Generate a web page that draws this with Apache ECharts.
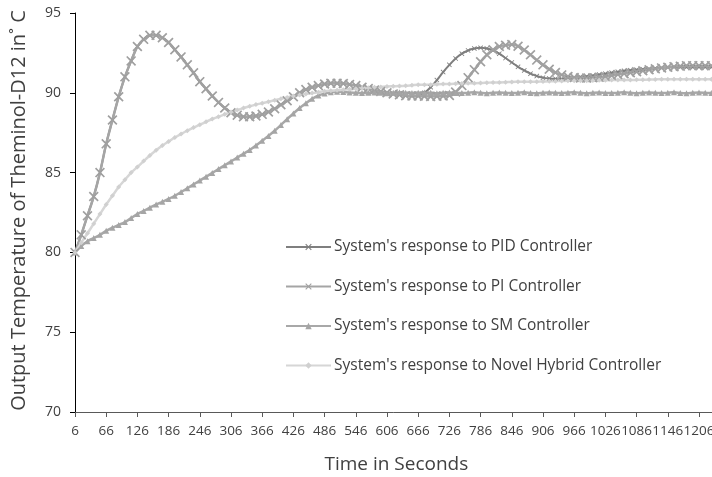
<!DOCTYPE html>
<html>
<head>
<meta charset="utf-8">
<script src="https://cdn.jsdelivr.net/npm/echarts@6/dist/echarts.min.js"></script>
<style>
html,body{margin:0;padding:0;background:#fff;}
#chart{width:712px;height:477px;}
</style>
</head>
<body>
<div id="chart"></div>
<script>
var timeLabels = [6,18,30,42,54,66,78,90,102,114,126,138,150,162,174,186,198,210,222,234,
  246,258,270,282,294,306,318,330,342,354,366,378,390,402,414,426,438,450,462,474,
  486,498,510,522,534,546,558,570,582,594,606,618,630,642,654,666,678,690,702,714,
  726,738,750,762,774,786,798,810,822,834,846,858,870,882,894,906,918,930,942,954,
  966,978,990,1002,1014,1026,1038,1050,1062,1074,1086,1098,1110,1122,1134,1146,1158,1170,1182,1194,
  1206,1218,1230,1242];

var pidValues = [80.0,81.1,82.3,83.5,85.0,86.8,88.3,89.75,91.0,92.0,
  92.9,93.35,93.6,93.6,93.45,93.15,92.7,92.25,91.75,91.25,
  90.7,90.25,89.8,89.4,89.05,88.75,88.6,88.5,88.5,88.55,
  88.65,88.8,89.0,89.25,89.5,89.75,90.0,90.2,90.35,90.45,
  90.55,90.6,90.6,90.58,90.52,90.45,90.35,90.27,90.18,90.08,
  90.0,89.93,89.87,89.82,89.8,89.8,
  90.0,90.35,90.8,91.3,91.75,92.15,92.45,92.65,92.77,92.82,
  92.78,92.66,92.45,92.18,91.9,91.63,91.4,91.2,91.05,90.95,
  90.9,90.88,90.88,90.92,90.95,91.0,91.03,91.08,91.14,91.2,
  91.26,91.32,91.38,91.42,91.45,91.48,91.51,91.54,91.57,91.6,
  91.6,91.6,91.6,91.6,91.6,91.6,91.6,91.6];

var piValues = [80.0,81.1,82.3,83.5,85.0,86.8,88.3,89.75,91.0,92.0,
  92.9,93.35,93.6,93.6,93.45,93.15,92.7,92.25,91.75,91.25,
  90.7,90.25,89.8,89.4,89.05,88.75,88.6,88.5,88.5,88.55,
  88.65,88.8,89.0,89.25,89.5,89.75,90.0,90.2,90.35,90.45,
  90.55,90.6,90.6,90.58,90.52,90.45,90.35,90.27,90.18,90.08,
  90.0,89.93,89.87,89.82,89.8,89.8,
  89.78,89.77,89.78,89.8,89.83,90.05,90.45,90.95,91.45,91.95,
  92.38,92.7,92.9,92.98,93.02,92.92,92.68,92.38,92.05,91.75,
  91.48,91.27,91.12,91.02,90.96,90.93,90.92,90.95,90.98,91.02,
  91.08,91.14,91.2,91.26,91.32,91.38,91.44,91.5,91.56,91.6,
  91.64,91.67,91.7,91.7,91.7,91.7,91.7,91.7];

var smValues = [80.0,80.4,80.7,80.9,81.1,81.35,81.55,81.72,81.9,82.15,
  82.4,82.6,82.8,83.0,83.17,83.35,83.55,83.78,84.02,84.26,
  84.5,84.74,84.98,85.22,85.46,85.7,85.94,86.18,86.42,86.7,
  87.0,87.3,87.62,87.98,88.35,88.7,89.05,89.35,89.62,89.83,
  89.95,90.03,90.06,90.05,90.02,
  90.0,89.98,90.0,90.02,90.0,89.97,90.0,90.03,90.0,89.98,
  90.01,90.02,90.0,89.97,90.0,90.02,89.99,89.98,90.0,90.03,
  90.0,89.97,90.01,90.02,90.0,89.98,90.0,90.03,89.99,89.97,
  90.0,90.02,90.0,89.98,90.01,90.03,90.0,89.97,90.0,90.02,
  89.99,89.98,90.0,90.03,90.0,89.97,90.01,90.02,90.0,89.98,
  90.0,90.03,89.99,89.97,90.0,90.02,90.0,89.98,90.01];

var hybridValues = [80.0,80.6,81.2,81.8,82.4,83.0,83.55,84.1,84.55,85.0,
  85.35,85.72,86.07,86.4,86.7,86.95,87.2,87.42,87.63,87.82,
  88.0,88.18,88.36,88.5,88.65,88.8,88.92,89.04,89.16,89.26,
  89.35,89.44,89.53,89.62,89.71,89.8,89.86,89.92,89.98,90.04,
  90.1,90.13,90.16,90.19,90.22,90.25,90.28,90.31,90.34,90.37,
  90.4,90.41,90.42,90.44,90.47,90.5,90.5,90.51,90.53,90.55,
  90.55,90.57,90.59,90.6,90.6,90.61,90.63,90.65,90.65,90.66,
  90.68,90.69,90.7,90.7,90.7,90.71,90.72,90.73,90.74,90.75,
  90.75,90.75,90.76,90.77,90.78,90.79,90.8,90.8,90.8,90.8,
  90.81,90.82,90.83,90.84,90.85,90.85,90.85,90.85,90.85,90.85,
  90.85,90.85,90.85,90.85];

var seriesNames = ["System's response to PID Controller","System's response to PI Controller","System's response to SM Controller","System's response to Novel Hybrid Controller"];
var yTicks = {min:70, max:95, interval:5};

var FONT = '"Open Sans", "Liberation Sans", sans-serif';
var crossPath = 'path://M0,1.2L1.2,0L5,3.8L8.8,0L10,1.2L6.2,5L10,8.8L8.8,10L5,6.2L1.2,10L0,8.8L3.8,5Z';

var chart = echarts.init(document.getElementById('chart'), null, {renderer:'canvas'});
chart.setOption({
  animation:false,
  backgroundColor:'#ffffff',
  grid:{left:75, top:13, bottom:65, right:-5.7, containLabel:false, outerBoundsMode:'none'},
  legend:{
    orient:'vertical', left:285, top:239, padding:0, itemWidth:45, itemHeight:8, itemGap:23.5,
    textStyle:{fontFamily:FONT, fontSize:15.5, color:'#404040', padding:[0,0,0,-2]},
    data:seriesNames
  },
  xAxis:{
    type:'category', boundaryGap:false, data:timeLabels,
    name:'Time in Seconds', nameLocation:'middle', nameGap:43.5,
    nameTextStyle:{fontFamily:FONT, fontSize:19, color:'#404040'},
    axisLine:{lineStyle:{color:'#595959', width:1}},
    axisTick:{show:true, interval:4, length:5, lineStyle:{color:'#595959'}},
    axisLabel:{interval:4, margin:12, fontFamily:FONT, fontSize:13.5, color:'#404040'},
    splitLine:{show:false}
  },
  yAxis:{
    type:'value', min:yTicks.min, max:yTicks.max, interval:yTicks.interval,
    name:'Output Temperature of Theminol-D12 in˚ C', nameLocation:'middle', nameGap:46,
    nameTextStyle:{fontFamily:FONT, fontSize:20, color:'#404040', padding:[0,0,0,4]},
    axisLine:{show:true, lineStyle:{color:'#000000', width:1}},
    axisTick:{show:true, length:5, lineStyle:{color:'#000000'}},
    axisLabel:{margin:14, fontFamily:FONT, fontSize:14, color:'#404040'},
    splitLine:{show:false}
  },
  series:[
    {name:seriesNames[0], type:'line', data:pidValues, showAllSymbol:true, smooth:0.3,
     symbol:crossPath, symbolSize:5, lineStyle:{color:'#7f7f7f', width:2},
     itemStyle:{color:'#7f7f7f'}},
    {name:seriesNames[1], type:'line', data:piValues, showAllSymbol:true, smooth:0.3,
     symbol:crossPath, symbolSize:10, lineStyle:{color:'#a5a5a5', width:2.5},
     itemStyle:{color:'#a0a0a0'}},
    {name:seriesNames[2], type:'line', data:smValues, showAllSymbol:true, smooth:0.3,
     symbol:'triangle', symbolSize:6, lineStyle:{color:'#a8a8a8', width:2.5},
     itemStyle:{color:'#a5a5a5'}},
    {name:seriesNames[3], type:'line', data:hybridValues, showAllSymbol:true, smooth:0.3,
     symbol:'diamond', symbolSize:5, lineStyle:{color:'#d6d6d6', width:2.5},
     itemStyle:{color:'#d0d0d0'}}
  ]
});
</script>
</body>
</html>
